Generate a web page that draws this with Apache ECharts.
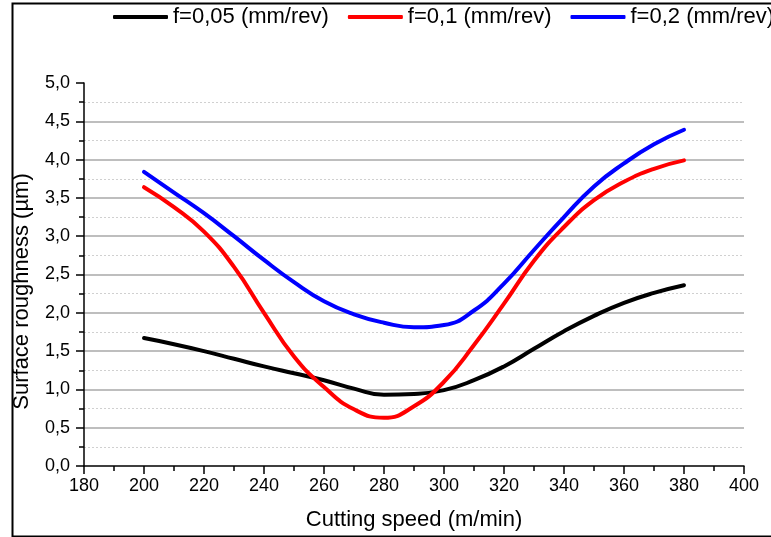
<!DOCTYPE html>
<html>
<head>
<meta charset="utf-8">
<script src="https://cdn.jsdelivr.net/npm/echarts@6/dist/echarts.min.js"></script>
<style>
  html, body { margin: 0; padding: 0; background: #fff; }
  #chart { width: 771px; height: 537px; }
</style>
</head>
<body>
<div id="chart"></div>
<script>
// Cutting speed (m/min) at which the roughness was measured
const speeds = [200, 210, 220, 230, 240, 250, 260, 270, 280, 290,
                300, 310, 320, 330, 340, 350, 360, 370, 380];

// Surface roughness Ra (µm) for each feed rate
const feed005 = [1.67, 1.59, 1.50, 1.40, 1.30, 1.21, 1.12, 1.01, 0.93, 0.94,
                 0.99, 1.12, 1.30, 1.53, 1.76, 1.96, 2.13, 2.26, 2.36];
const feed01  = [3.64, 3.38, 3.06, 2.60, 2.00, 1.43, 1.03, 0.74, 0.63, 0.78,
                 1.10, 1.58, 2.12, 2.68, 3.12, 3.47, 3.71, 3.88, 3.99];
const feed02  = [3.84, 3.57, 3.30, 3.00, 2.69, 2.40, 2.15, 1.98, 1.87, 1.81,
                 1.84, 2.03, 2.38, 2.82, 3.25, 3.65, 3.95, 4.20, 4.39];

const seriesNames = ['f=0,05 (mm/rev)', 'f=0,1 (mm/rev)', 'f=0,2 (mm/rev)'];
const seriesColors = ['#000000', '#ff0000', '#0000ff'];
const seriesValues = [feed005, feed01, feed02];

const FONT = "'Liberation Sans', Arial, Helvetica, sans-serif";

function pairs(values) {
  return speeds.map((s, i) => [s, values[i]]);
}

const chart = echarts.init(document.getElementById('chart'), null, { renderer: 'canvas' });

chart.setOption({
  animation: false,
  backgroundColor: '#ffffff',
  textStyle: { fontFamily: FONT },
  graphic: [{
    type: 'rect',
    left: 10, top: 1,
    shape: { width: 800, height: 533 },
    style: { fill: 'none', stroke: '#000', lineWidth: 2 },
    silent: true
  }],
  legend: {
    top: 6,
    left: 113,
    width: 700,
    padding: 0,
    icon: 'roundRect',
    itemWidth: 55,
    itemHeight: 4,
    itemGap: 19,
    textStyle: { fontFamily: FONT, fontSize: 22, color: '#000' },
    data: seriesNames
  },
  grid: { left: 84, right: 27, top: 83, bottom: 71 },
  xAxis: {
    type: 'value',
    min: 180, max: 400, interval: 20,
    name: 'Cutting speed (m/min)',
    nameLocation: 'middle',
    nameGap: 43,
    nameTextStyle: { fontFamily: FONT, fontSize: 22, color: '#000' },
    axisLine: { show: true, onZero: false, lineStyle: { color: '#000', width: 1.5 } },
    axisTick: { show: true, inside: false, length: 8, lineStyle: { color: '#000', width: 1.5 } },
    minorTick: { show: true, splitNumber: 2, length: 5, lineStyle: { color: '#000', width: 1.5 } },
    axisLabel: { fontFamily: FONT, fontSize: 18, color: '#000', margin: 11 },
    splitLine: { show: false }
  },
  yAxis: {
    type: 'value',
    min: 0, max: 5, interval: 0.5,
    name: 'Surface roughness (µm)',
    nameLocation: 'middle',
    nameGap: 51,
    nameRotate: 90,
    nameTextStyle: { fontFamily: FONT, fontSize: 22, color: '#000', padding: [0, 34, 0, 0] },
    axisLine: { show: true, lineStyle: { color: '#000', width: 1.5 } },
    axisTick: { show: true, inside: false, length: 8, lineStyle: { color: '#000', width: 1.5 } },
    minorTick: { show: true, splitNumber: 2, length: 5, lineStyle: { color: '#000', width: 1.5 } },
    axisLabel: {
      fontFamily: FONT, fontSize: 18, color: '#000', margin: 14,
      formatter: v => v.toFixed(1).replace('.', ',')
    },
    splitLine: {
      show: true, showMinLine: false, showMaxLine: false,
      lineStyle: { color: '#a8a8a8', width: 1.5, type: 'solid' }
    },
    minorSplitLine: {
      show: true,
      lineStyle: { color: '#d0d0d0', width: 1, type: [2, 2] }
    }
  },
  series: seriesNames.map((name, i) => ({
    name: name,
    type: 'line',
    smooth: 0.5,
    symbol: 'none',
    data: pairs(seriesValues[i]),
    color: seriesColors[i],
    lineStyle: { color: seriesColors[i], width: 4, cap: 'round', join: 'round' },
    z: 3 + i
  }))
});
</script>
</body>
</html>
